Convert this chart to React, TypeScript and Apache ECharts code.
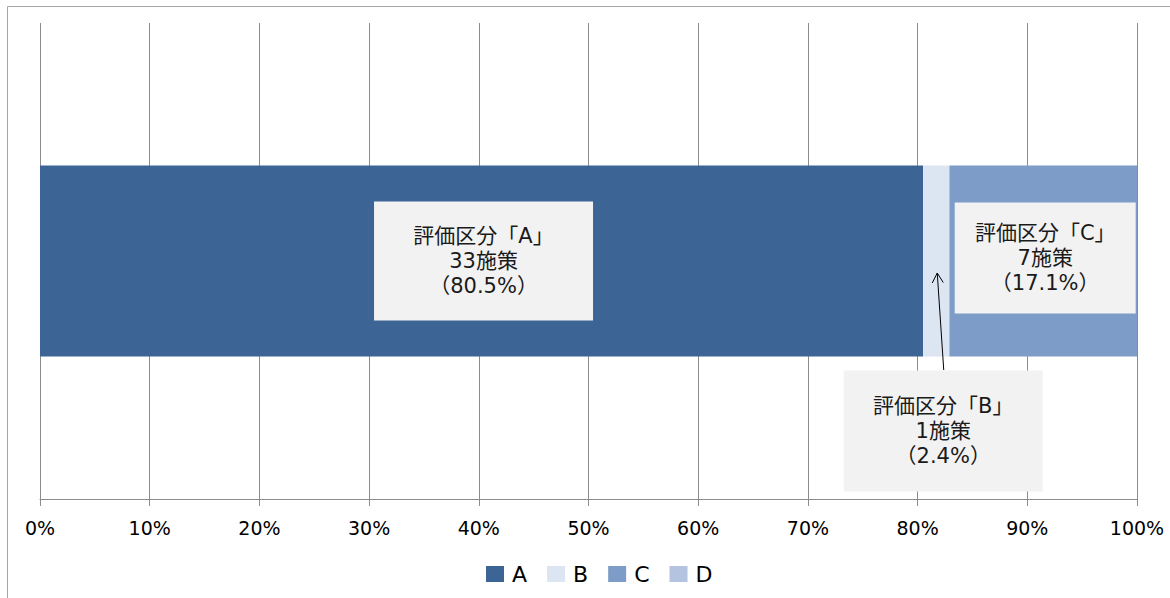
import React, { useEffect, useRef } from "react";
import * as echarts from "echarts";

const categories = ["評価区分"];
const seriesNames = ["A", "B", "C", "D"];
const measureCounts = [33, 1, 7, 0];
const percentValues = [80.5, 2.4, 17.1, 0];
const axisMin = 0;
const axisMax = 100;
const axisInterval = 10;

const colors = ["#3C6595", "#DCE6F2", "#7E9CC8", "#B4C4E0"];

const labelStyles: any[] = [
  { show: true, width: 219, height: 75, padding: [22, 0], offset: [2, 0] },
  { show: true, width: 199, height: 75, padding: [23, 0], offset: [7, 170] },
  { show: true, width: 181, height: 75, padding: [18, 0], offset: [2, -3] },
  { show: false },
];

const labelFont = "'DejaVu Sans', 'Noto Sans CJK JP', sans-serif";
const latinFont = "'DejaVu Sans', sans-serif";

export default function App() {
  const ref = useRef<HTMLDivElement>(null);

  useEffect(() => {
    if (!ref.current) return;
    const chart = echarts.init(ref.current, undefined, { renderer: "svg" });

    const series = seriesNames.map((name, i) => ({
      name,
      type: "bar",
      stack: "total",
      barWidth: 191,
      itemStyle: { color: colors[i] },
      emphasis: { disabled: true },
      label: {
        ...labelStyles[i],
        position: "inside",
        backgroundColor: "#F2F2F2",
        color: "#1a1a1a",
        fontFamily: labelFont,
        fontSize: 21,
        lineHeight: 25,
        align: "center",
        verticalAlign: "middle",
        textBorderWidth: 0,
        textBorderColor: "transparent",
        formatter: () =>
          `評価区分「${name}」\n${measureCounts[i]}施策\n（${percentValues[i]}%）`,
      },
      data: categories.map(() => percentValues[i]),
    }));

    chart.setOption({
      animation: false,
      color: colors,
      grid: { left: 40, right: 33, top: 23, bottom: 99, containLabel: false },
      legend: {
        data: seriesNames,
        left: 481,
        top: 558,
        icon: "rect",
        itemWidth: 18,
        itemHeight: 16,
        itemGap: 20,
        selectedMode: false,
        textStyle: {
          fontFamily: latinFont,
          fontSize: 22,
          lineHeight: 22,
          color: "#000",
          padding: [0, 0, 0, 3],
        },
      },
      xAxis: {
        type: "value",
        min: axisMin,
        max: axisMax,
        interval: axisInterval,
        axisLine: { show: true, lineStyle: { color: "#8c8c8c", width: 1 } },
        axisTick: { show: true, length: 7, lineStyle: { color: "#8c8c8c" } },
        splitLine: { show: true, lineStyle: { color: "#8c8c8c", width: 1 } },
        axisLabel: {
          formatter: "{value}%",
          fontFamily: latinFont,
          fontSize: 19,
          color: "#000",
          margin: 19,
        },
      },
      yAxis: {
        type: "category",
        data: categories,
        axisLine: { show: false },
        axisTick: { show: false },
        axisLabel: { show: false },
        splitLine: { show: false },
      },
      series,
    });

    const tip = chart.convertToPixel({ gridIndex: 0 }, [
      percentValues[0] + percentValues[1] / 2,
      0,
    ]) as number[];
    const tx = tip[0] + 1;
    const ty = tip[1] + 12;

    chart.setOption({
      graphic: [
        {
          type: "rect",
          silent: true,
          shape: { x: 7.5, y: 6.5, width: 1400, height: 800 },
          style: { fill: "none", stroke: "#a6a6a6", lineWidth: 1 },
        },
        {
          type: "line",
          silent: true,
          z: 100,
          shape: { x1: tx, y1: ty, x2: tip[0] + 7.5, y2: tip[1] + 109 },
          style: { stroke: "#000", lineWidth: 1 },
        },
        {
          type: "polyline",
          silent: true,
          z: 100,
          shape: {
            points: [
              [tx - 5, ty + 10],
              [tx, ty],
              [tx + 6, ty + 9.5],
            ],
          },
          style: { stroke: "#000", lineWidth: 1, fill: "none" },
        },
      ],
    });

    return () => chart.dispose();
  }, []);

  return (
    <div
      ref={ref}
      style={{ position: "absolute", left: 0, top: 0, width: 1170, height: 598, background: "#fff" }}
    />
  );
}
